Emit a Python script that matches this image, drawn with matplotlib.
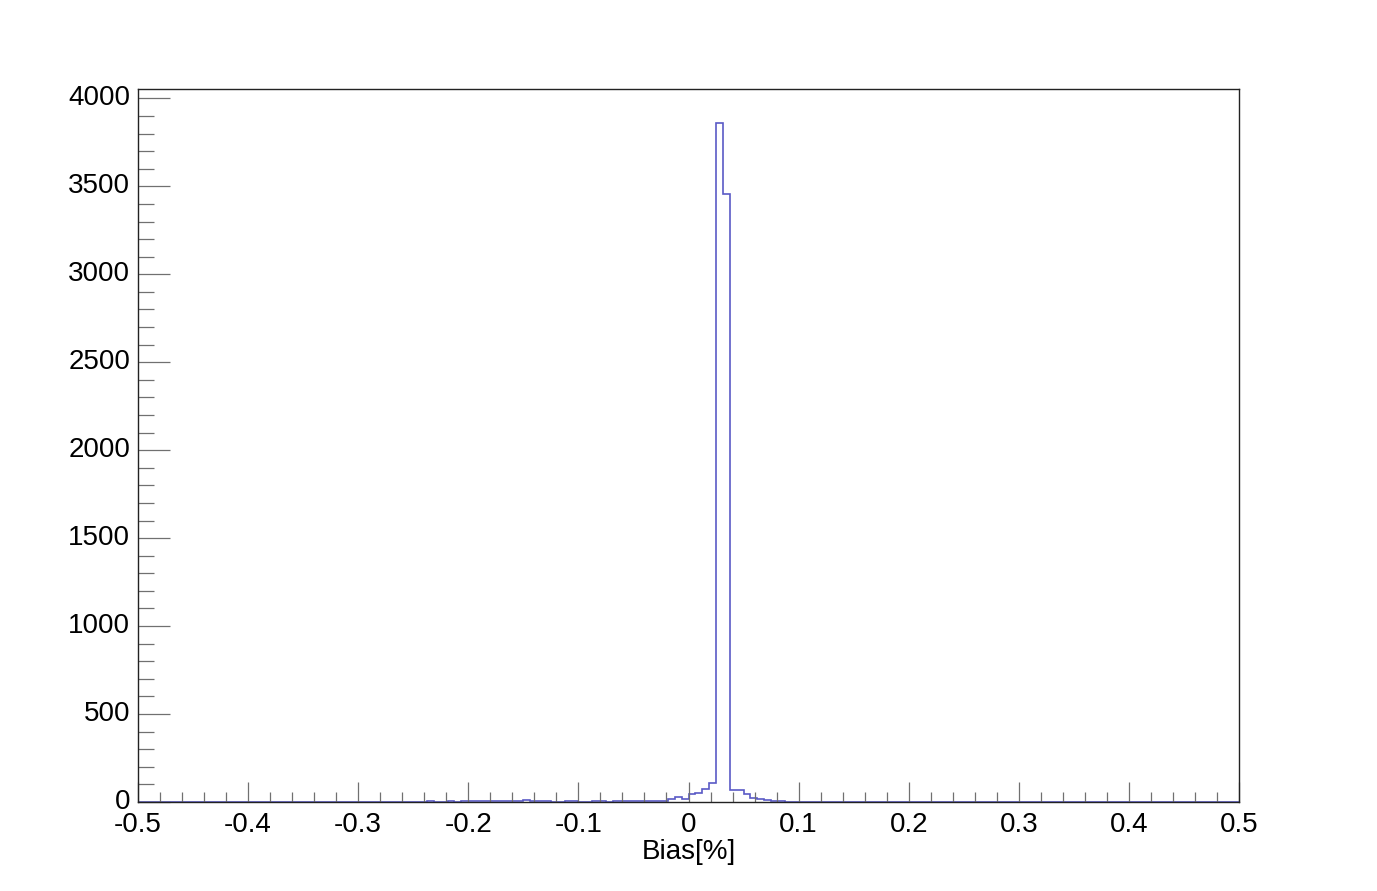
import matplotlib
matplotlib.use("Agg")
import matplotlib.pyplot as plt
import matplotlib.transforms as mtransforms
import numpy as np
from matplotlib.ticker import MultipleLocator, FuncFormatter

plt.rcParams['font.family'] = ['Liberation Sans', 'DejaVu Sans']
plt.rcParams['axes.unicode_minus'] = False

# histogram definition: 160 bins from -0.5 to 0.5
n_bins = 160
x_min, x_max = -0.5, 0.5

# non-empty bins (bin index) and their contents
filled_bins = [42, 45, 47, 48, 49, 50, 51, 52, 53, 54, 55, 56, 57, 58, 59,
               62, 63, 66, 67, 69, 70, 71, 72, 73, 74, 75, 76,
               77, 78, 79, 80, 81, 82, 83, 84, 85, 86, 87, 88, 89, 90, 91, 92, 93]
filled_counts = [4, 4, 5, 5, 4, 5, 4, 5, 5, 4, 5, 11, 5, 4, 5,
                 5, 5, 5, 4, 5, 4, 5, 6, 5, 5, 6, 5,
                 15, 27, 14, 45, 51, 72, 106, 3860, 3454, 67, 66, 46, 24, 16, 10, 4, 3]

edges = np.linspace(x_min, x_max, n_bins + 1)
counts = np.zeros(n_bins)
counts[filled_bins] = filled_counts

fig = plt.figure(figsize=(13.77, 8.91), dpi=100)
ax = fig.add_axes([0.1, 0.1, 0.8, 0.8])

ax.stairs(counts, edges, baseline=None, color='#5a5ac6', linewidth=1.2)

ax.set_xlim(x_min, x_max)
ax.set_ylim(0, counts.max() * 1.05)

# ROOT-like frame
for side in ['left', 'right', 'top', 'bottom']:
    ax.spines[side].set_color('#222222')
    ax.spines[side].set_linewidth(1.0)

ax.xaxis.set_major_locator(MultipleLocator(0.1))
ax.xaxis.set_minor_locator(MultipleLocator(0.02))
ax.yaxis.set_major_locator(MultipleLocator(500))
ax.yaxis.set_minor_locator(MultipleLocator(100))
ax.xaxis.set_major_formatter(FuncFormatter(lambda v, p: '{:g}'.format(round(v, 3) + 0.0)))
ax.yaxis.set_major_formatter(FuncFormatter(lambda v, p: '{:g}'.format(v)))

ax.tick_params(axis='both', which='both', direction='in', colors='#707070',
               labelcolor='black', labelsize=20, top=False, right=False)
ax.tick_params(axis='x', which='major', length=14.5, width=0.9, pad=7)
ax.tick_params(axis='x', which='minor', length=7.2, width=0.9)
ax.tick_params(axis='y', which='major', length=23, width=0.9, pad=5.5)
ax.tick_params(axis='y', which='minor', length=11.5, width=0.9)

# y labels sit a little above their ticks, as in ROOT
shift = mtransforms.ScaledTranslation(0, 3 / 100, fig.dpi_scale_trans)
for lab in ax.get_yticklabels():
    lab.set_transform(lab.get_transform() + shift)

ax.set_xlabel('Bias[%]', fontsize=20, labelpad=1)

fig.savefig('out.png', dpi=100)
